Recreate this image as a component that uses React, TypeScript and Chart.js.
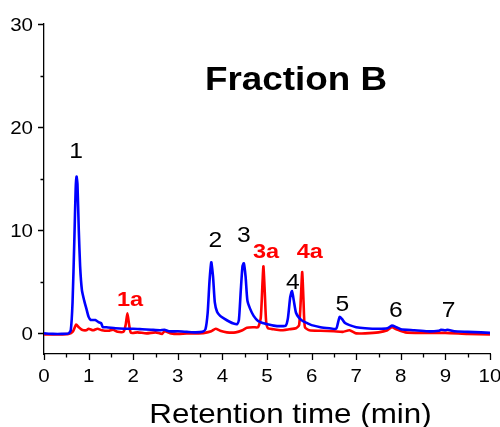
import React, { useEffect, useRef } from "react";
import { Chart, registerables } from "chart.js";

Chart.register(...registerables);

// Retention time (min) / signal pairs for the two chromatogram traces
const blueTimes = [0, 0.2, 0.4, 0.55, 0.6, 0.64, 0.68, 0.71, 0.73, 0.75, 0.78, 0.81, 0.85, 0.9, 0.95, 1.0, 1.05, 1.15, 1.22, 1.28, 1.32, 1.4, 1.6, 1.8, 2.0, 2.2, 2.4, 2.6, 2.7, 2.8, 3.0, 3.2, 3.4, 3.55, 3.62, 3.67, 3.71, 3.75, 3.79, 3.83, 3.88, 3.95, 4.05, 4.15, 4.25, 4.33, 4.37, 4.41, 4.45, 4.48, 4.52, 4.56, 4.62, 4.7, 4.8, 4.9, 5.0, 5.15, 5.3, 5.42, 5.47, 5.52, 5.56, 5.6, 5.65, 5.72, 5.8, 5.9, 6.0, 6.2, 6.4, 6.55, 6.59, 6.63, 6.68, 6.75, 6.85, 7.0, 7.2, 7.5, 7.7, 7.8, 7.9, 8.0, 8.3, 8.6, 8.85, 8.9, 9.0, 9.05, 9.2, 9.5, 9.8, 10];
const blueValues = [0, -0.05, -0.05, 0, 0.3, 3, 9, 14, 15.2, 14.5, 10, 6.5, 4.2, 3.2, 2.4, 1.6, 1.3, 1.3, 1.1, 1.0, 0.6, 0.6, 0.5, 0.45, 0.45, 0.4, 0.35, 0.3, 0.35, 0.2, 0.2, 0.15, 0.1, 0.15, 0.4, 2, 5, 6.9, 5.5, 3, 2.1, 1.7, 1.4, 1.15, 0.95, 0.9, 1.3, 4, 6.5, 6.8, 5.5, 3.2, 2.4, 1.7, 1.2, 1.0, 0.9, 0.75, 0.7, 0.75, 1.5, 3.5, 4.1, 3.2, 2.0, 1.5, 1.2, 1.0, 0.8, 0.6, 0.5, 0.45, 1.0, 1.6, 1.4, 1.0, 0.8, 0.6, 0.5, 0.45, 0.5, 0.75, 0.6, 0.4, 0.3, 0.2, 0.25, 0.35, 0.3, 0.35, 0.2, 0.15, 0.1, 0.05];

const redTimes = [0, 0.3, 0.55, 0.65, 0.72, 0.78, 0.85, 0.95, 1.0, 1.1, 1.2, 1.3, 1.45, 1.55, 1.65, 1.78, 1.83, 1.87, 1.91, 1.95, 2.1, 2.3, 2.5, 2.65, 2.7, 2.85, 3.0, 3.2, 3.4, 3.6, 3.75, 3.85, 3.95, 4.1, 4.3, 4.45, 4.55, 4.7, 4.8, 4.86, 4.9, 4.92, 4.95, 4.98, 5.02, 5.15, 5.3, 5.5, 5.65, 5.72, 5.76, 5.79, 5.82, 5.85, 5.95, 6.2, 6.5, 6.7, 6.85, 7.0, 7.2, 7.5, 7.7, 7.8, 7.9, 8.1, 8.5, 9.0, 9.5, 10];
const redValues = [-0.1, -0.1, -0.05, 0.2, 0.85, 0.6, 0.35, 0.3, 0.45, 0.3, 0.45, 0.3, 0.25, 0.35, 0.15, 0.15, 0.8, 1.95, 0.8, 0.05, 0.1, 0.0, 0.1, -0.05, 0.2, 0.0, -0.05, 0.0, 0.0, 0.05, 0.2, 0.45, 0.25, 0.1, 0.1, 0.3, 0.55, 0.6, 0.6, 1.5, 5, 6.5, 4, 1.2, 0.5, 0.4, 0.3, 0.4, 0.5, 0.8, 3.5, 5.95, 3, 0.6, 0.3, 0.25, 0.2, 0.15, 0.3, 0.0, 0.0, 0.1, 0.3, 0.6, 0.4, 0.1, 0.05, 0.05, -0.05, -0.1];

// Peak annotations: text, retention time (centre), signal level (baseline)
const peakTexts = ["1", "2", "3", "4", "5", "6", "7", "1a", "3a", "4a"];
const peakTimes = [0.72, 3.84, 4.48, 5.58, 6.69, 7.89, 9.07, 1.93, 4.98, 5.96];
const peakLevels = [17.0, 8.35, 8.9, 4.3, 2.2, 1.55, 1.55, 2.7, 7.3, 7.3];
const peakIsRed = [false, false, false, false, false, false, false, true, true, true];

const xTicks = [0, 1, 2, 3, 4, 5, 6, 7, 8, 9, 10];
const yTicks = [0, 10, 20, 30];
const xMinorTicks = [0.5, 1.5, 2.5, 3.5, 4.5, 5.5, 6.5, 7.5, 8.5, 9.5];
const yMinorTicks = [5, 15, 25];

const FONT = "'Liberation Sans', Arial, Helvetica, sans-serif";
const BLUE = "#0000ff";
const RED = "#ff0000";
// glyphs in this figure are set slightly wide
const STRETCH = 1.12;

const toPoints = (xs: number[], ys: number[]) => xs.map((x, i) => ({ x, y: ys[i] }));

function wideText(
  ctx: CanvasRenderingContext2D,
  text: string,
  x: number,
  y: number,
  font: string,
  color: string,
  align: CanvasTextAlign,
  sx: number
) {
  ctx.save();
  ctx.font = font;
  ctx.fillStyle = color;
  ctx.textAlign = align;
  ctx.textBaseline = "alphabetic";
  ctx.translate(x, y);
  ctx.scale(sx, 1);
  ctx.fillText(text, 0, 0);
  ctx.restore();
}

const decorations = {
  id: "decorations",
  afterDraw(chart: any) {
    const { ctx, chartArea, scales } = chart;
    const xs = scales.x;
    const ys = scales.y;
    ctx.save();

    // outward tick marks
    ctx.strokeStyle = "#000";
    ctx.lineWidth = 1.3;
    ctx.beginPath();
    xTicks.forEach((v) => {
      const px = Math.round(xs.getPixelForValue(v)) + 0.5;
      ctx.moveTo(px, chartArea.bottom);
      ctx.lineTo(px, chartArea.bottom + 6);
    });
    xMinorTicks.forEach((v) => {
      const px = Math.round(xs.getPixelForValue(v)) + 0.5;
      ctx.moveTo(px, chartArea.bottom);
      ctx.lineTo(px, chartArea.bottom + 3.5);
    });
    yTicks.forEach((v) => {
      const py = Math.round(ys.getPixelForValue(v)) + 0.5;
      ctx.moveTo(chartArea.left, py);
      ctx.lineTo(chartArea.left - 6, py);
    });
    yMinorTicks.forEach((v) => {
      const py = Math.round(ys.getPixelForValue(v)) + 0.5;
      ctx.moveTo(chartArea.left, py);
      ctx.lineTo(chartArea.left - 3.5, py);
    });
    ctx.stroke();
    ctx.restore();

    // tick labels
    const tickFont = `19px ${FONT}`;
    xTicks.forEach((v) => {
      wideText(ctx, String(v), xs.getPixelForValue(v), chartArea.bottom + 28, tickFont, "#000", "center", 1.08);
    });
    yTicks.forEach((v) => {
      wideText(ctx, String(v), chartArea.left - 11, ys.getPixelForValue(v) + 7, tickFont, "#000", "right", 1.08);
    });

    // peak labels
    peakTexts.forEach((t, i) => {
      const red = peakIsRed[i];
      wideText(
        ctx,
        t,
        xs.getPixelForValue(peakTimes[i]),
        ys.getPixelForValue(peakLevels[i]),
        red ? `bold 21px ${FONT}` : `22px ${FONT}`,
        red ? RED : "#000",
        "center",
        STRETCH
      );
    });

    // panel title
    wideText(ctx, "Fraction B", 296, 90, `bold 33px ${FONT}`, "#000", "center", 1.115);

    // x axis title
    wideText(ctx, "Retention time (min)", 290.5, 423, `28px ${FONT}`, "#000", "center", 1.12);
  },
};

export default function App() {
  const canvasRef = useRef<HTMLCanvasElement | null>(null);

  useEffect(() => {
    if (!canvasRef.current) return;
    const chart = new Chart(canvasRef.current, {
      type: "line",
      data: {
        datasets: [
          {
            label: "Fraction B",
            data: toPoints(blueTimes, blueValues),
            borderColor: BLUE,
            borderWidth: 2.6,
            pointRadius: 0,
            tension: 0.2,
            fill: false,
          },
          {
            label: "Reference",
            data: toPoints(redTimes, redValues),
            borderColor: RED,
            borderWidth: 2.6,
            pointRadius: 0,
            tension: 0.2,
            fill: false,
          },
        ],
      },
      options: {
        animation: false,
        responsive: false,
        maintainAspectRatio: false,
        layout: { padding: { top: 24, right: 10, left: 0, bottom: 0 } },
        plugins: {
          legend: { display: false },
          tooltip: { enabled: false },
          title: { display: false },
        },
        scales: {
          x: {
            type: "linear",
            min: 0,
            max: 10,
            grid: { display: false },
            border: { display: true, color: "#000", width: 1.3 },
            ticks: { display: false },
            afterFit: (scale: any) => {
              scale.height = 73;
              scale.paddingLeft = 0;
              scale.paddingRight = 0;
            },
          },
          y: {
            type: "linear",
            min: -2,
            max: 30,
            grid: { display: false },
            border: { display: true, color: "#000", width: 1.3 },
            ticks: { display: false },
            afterFit: (scale: any) => {
              scale.width = 44;
              scale.paddingTop = 0;
              scale.paddingBottom = 0;
            },
          },
        },
      },
      plugins: [decorations],
    });
    return () => chart.destroy();
  }, []);

  return (
    <div style={{ position: "fixed", left: 0, top: 0, width: 500, height: 427, background: "#fff" }}>
      <canvas ref={canvasRef} width={500} height={427} style={{ display: "block", width: 500, height: 427 }} />
    </div>
  );
}
